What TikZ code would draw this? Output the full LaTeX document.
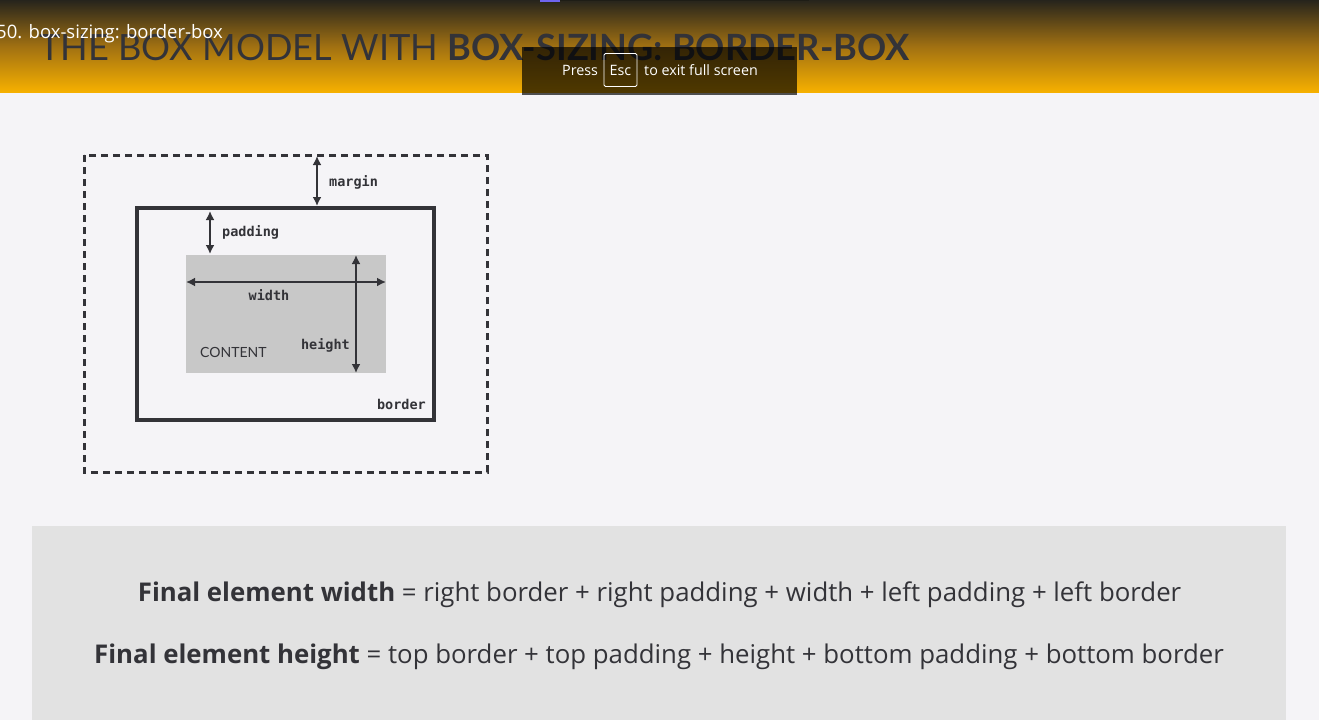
\documentclass[tikz,border=0pt]{standalone}
\usepackage{fontspec}
\setmainfont{Lato}
\newfontfamily\uifont{Open Sans}
\newfontfamily\formfont{Open Sans}
\newfontfamily\codefont{DejaVu Sans Mono}
\usetikzlibrary{arrows.meta}
\definecolor{pagebg}{RGB}{245,244,247}
\definecolor{ink}{RGB}{51,51,56}
\definecolor{contentgray}{RGB}{200,200,200}
\definecolor{formulabg}{RGB}{226,226,226}
\definecolor{hdtop}{RGB}{38,36,28}
\definecolor{hdmid}{RGB}{160,112,18}
\definecolor{hdbot}{RGB}{246,176,0}
\definecolor{tabpurple}{RGB}{110,100,240}
\tikzset{
  dim/.style={draw=ink,line width=2.4pt,{Latex[length=9pt,width=9pt]}-{Latex[length=9pt,width=9pt]}},
  codelabel/.style={text=ink,font=\codefont\bfseries\fontsize{13.5}{13}\selectfont,inner sep=0pt},
  formula/.style={text=ink,font=\formfont\fontsize{25.8}{26}\selectfont,inner sep=0pt,anchor=base},
}
\begin{document}
\begin{tikzpicture}[x=1pt,y=-1pt]
\useasboundingbox (0,0) rectangle (1319,720);
\fill[pagebg] (0,0) rectangle (1319,720);
% header
\shade[top color=hdtop,bottom color=hdbot,middle color=hdmid] (0,0) rectangle (1319,92);
\fill[tabpurple] (540,0) rectangle (560,2);
\fill[hdtop!80!black] (560,0) rectangle (809,1);
\node[anchor=base west,inner sep=0pt,text=ink,font=\fontsize{36.2}{36}\selectfont] (title) at (39,60)
  {THE BOX MODEL WITH \textbf{BOX-SIZING: BORDER-BOX}};
\node[anchor=base west,inner sep=0pt,text=white,font=\uifont\fontsize{18.5}{18}\selectfont] (tab) at (-4,38) {50. box-sizing: border-box};
% fullscreen notice
\fill[black,opacity=0.68] (522,47) rectangle (797,95);
\node[anchor=base west,inner sep=0pt,text=white,font=\uifont\fontsize{14.3}{15}\selectfont] (press) at (562,75) {Press};
\node[draw=white,rounded corners=1.5pt,line width=0.8pt,minimum width=33pt,minimum height=33pt,inner sep=0pt,text=white,font=\uifont\fontsize{14.3}{15}\selectfont] (esc) at (620.5,70) {Esc};
\node[anchor=base west,inner sep=0pt,text=white,font=\uifont\fontsize{14.3}{15}\selectfont] (exit) at (644,75) {to exit full screen};
% box model
\draw[ink,line width=3pt,dash pattern=on 7pt off 5pt] (84,155) rectangle (487,472);
\node[draw=ink,line width=3.5pt,minimum width=297pt,minimum height=212pt,inner sep=0pt] (borderbox) at (285.5,314) {};
\node[fill=contentgray,minimum width=200pt,minimum height=118pt,inner sep=0pt] (content) at (286,314) {};
\coordinate (mtop) at (317,156);
\coordinate (mbot) at (317,206);
\draw[dim] (mtop) -- (mbot);
\node[codelabel,anchor=base west] (marginlbl) at (329,186) {margin};
\coordinate (ptop) at (210,211);
\coordinate (pbot) at (210,254);
\draw[dim] (ptop) -- (pbot);
\node[codelabel,anchor=base west] (paddinglbl) at (222,236) {padding};
\coordinate (wl) at (186,282);
\coordinate (wr) at (386,282);
\draw[dim] (wl) -- (wr);
\node[codelabel,anchor=base] (widthlbl) at (269,300) {width};
\coordinate (ht) at (356,255);
\coordinate (hb) at (356,373);
\draw[dim] (ht) -- (hb);
\node[codelabel,anchor=base east] (heightlbl) at (350,349) {height};
\node[anchor=base west,inner sep=0pt,text=ink,font=\fontsize{14}{14}\selectfont] (contentlbl) at (200,357) {CONTENT};
\node[codelabel,anchor=base east] (borderlbl) at (426,409) {border};
% formulas
\fill[formulabg] (32,526) rectangle (1286,720);
\node[formula] (fw) at (659.5,601) {\textbf{Final element width} = right border + right padding + width + left padding + left border};
\node[formula] (fh) at (659,663) {\textbf{Final element height} = top border + top padding + height + bottom padding + bottom border};
\end{tikzpicture}
\end{document}
